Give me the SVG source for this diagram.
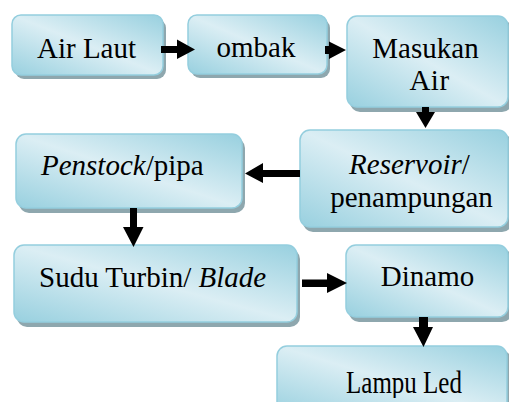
<svg xmlns="http://www.w3.org/2000/svg" width="509" height="402" viewBox="0 0 509 402">
<defs>
<linearGradient id="g" x1="0" y1="1" x2="1" y2="0">
<stop offset="0" stop-color="#98d0df"/>
<stop offset="0.5" stop-color="#dbeef4"/>
<stop offset="1" stop-color="#98d0df"/>
</linearGradient>
<clipPath id="clipL"><rect x="270" y="340" width="239" height="58"/></clipPath>
</defs>
<style>
.sh{fill:#8ea7ae}
.bx{fill:url(#g);stroke:#94cede;stroke-width:1.5}
.c{text-anchor:middle}
.i{font-style:italic}
.ar{fill:#000}
.t{font-family:Liberation Serif, serif;font-size:29px;fill:#000}
</style>
<g id="n1">
<rect class="sh" x="15" y="19" width="151" height="60" rx="9"/>
<rect class="bx" x="12" y="15" width="151" height="60" rx="9"/>
<text class="t c" x="86.5" y="58">Air Laut</text>
</g>
<g id="n2">
<rect class="sh" x="191" y="19" width="139" height="59" rx="9"/>
<rect class="bx" x="188" y="15" width="139" height="59" rx="9"/>
<text class="t c" x="256" y="57">ombak</text>
</g>
<g id="n3">
<rect class="sh" x="350" y="20" width="162" height="92" rx="10"/>
<rect class="bx" x="347" y="16" width="161" height="91" rx="10"/>
<text class="t c" x="425.5" y="58">Masukan</text>
<text class="t c" x="429.5" y="90" letter-spacing="0.5">Air</text>
</g>
<g id="n4">
<rect class="sh" x="303" y="134" width="209" height="98" rx="10"/>
<rect class="bx" x="300" y="130" width="208" height="97" rx="10"/>
<text class="t c" x="409.5" y="174"><tspan class="i">Reservoir</tspan>/</text>
<text class="t c" x="411.5" y="207">penampungan</text>
</g>
<g id="n5">
<rect class="sh" x="19" y="138" width="226" height="75" rx="10"/>
<rect class="bx" x="16" y="134" width="226" height="74" rx="10"/>
<text class="t" x="41" y="175"><tspan class="i">Penstock</tspan>/pipa</text>
</g>
<g id="n6">
<rect class="sh" x="17" y="249" width="283" height="78" rx="10"/>
<rect class="bx" x="14" y="245" width="283" height="77" rx="10"/>
<text class="t" x="39" y="287">Sudu Turbin/ <tspan class="i">Blade</tspan></text>
</g>
<g id="n7">
<rect class="sh" x="349" y="249" width="163" height="73" rx="10"/>
<rect class="bx" x="346" y="245" width="162" height="72" rx="10"/>
<text class="t c" x="427.5" y="286">Dinamo</text>
</g>
<g id="n8">
<rect class="sh" x="280" y="350" width="231" height="70" rx="10"/>
<rect class="bx" x="277" y="346" width="230" height="70" rx="10"/>
<g clip-path="url(#clipL)">
<text class="t c" x="404" y="393" style="font-size:25px" transform="translate(0,393) scale(1,1.3) translate(0,-393)">Lampu Led</text>
</g>
</g>
<g id="connectors">
<polygon class="ar" points="161,46 177,46 177,39.5 195,49.5 177,59 177,53 161,53"/>
<polygon class="ar" points="325,46 329,46 329,41.5 346,50 329,59 329,54 325,54"/>
<polygon class="ar" points="422,107 429,107 429,112 435,112 425.5,128 416,112 422,112"/>
<polygon class="ar" points="300,170 263,170 263,163 245,173.5 263,183 263,177 300,177"/>
<polygon class="ar" points="130,208 137,208 137,227 143.5,227 133.5,247 123,227 130,227"/>
<polygon class="ar" points="302,279.5 327,279.5 327,273 347,283 327,293 327,287 302,287"/>
<polygon class="ar" points="419,317 428,317 428,327 433,327 423.5,347 413,327 419,327"/>
</g>
</svg>
